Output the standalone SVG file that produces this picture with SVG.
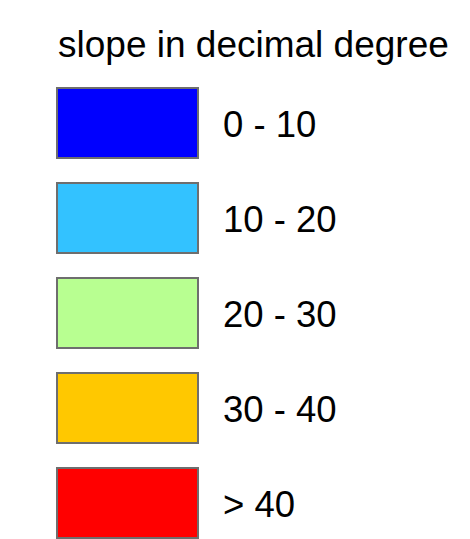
<svg xmlns="http://www.w3.org/2000/svg" width="470" height="539" viewBox="0 0 470 539">
<style>
text{font-family:"Liberation Sans",Arial,sans-serif;font-size:36.5px;fill:#000}
.box{stroke:#6e6e6e;stroke-width:2}
</style>
<rect width="470" height="539" fill="#fff"/>
<g id="title"><text x="58" y="57" style="font-size:37px">slope in decimal degree</text></g>
<g id="c1"><rect class="box" x="57" y="88" width="141" height="70" fill="#0000ff"/><text x="223" y="137">0 - 10</text></g>
<g id="c2"><rect class="box" x="57" y="183" width="141" height="70" fill="#33c2ff"/><text x="223" y="232">10 - 20</text></g>
<g id="c3"><rect class="box" x="57" y="278" width="141" height="70" fill="#b8ff91"/><text x="223" y="327">20 - 30</text></g>
<g id="c4"><rect class="box" x="57" y="373" width="141" height="70" fill="#ffc800"/><text x="223" y="422">30 - 40</text></g>
<g id="c5"><rect class="box" x="57" y="468" width="141" height="70" fill="#ff0000"/><text x="223" y="517">&gt; 40</text></g>
</svg>
